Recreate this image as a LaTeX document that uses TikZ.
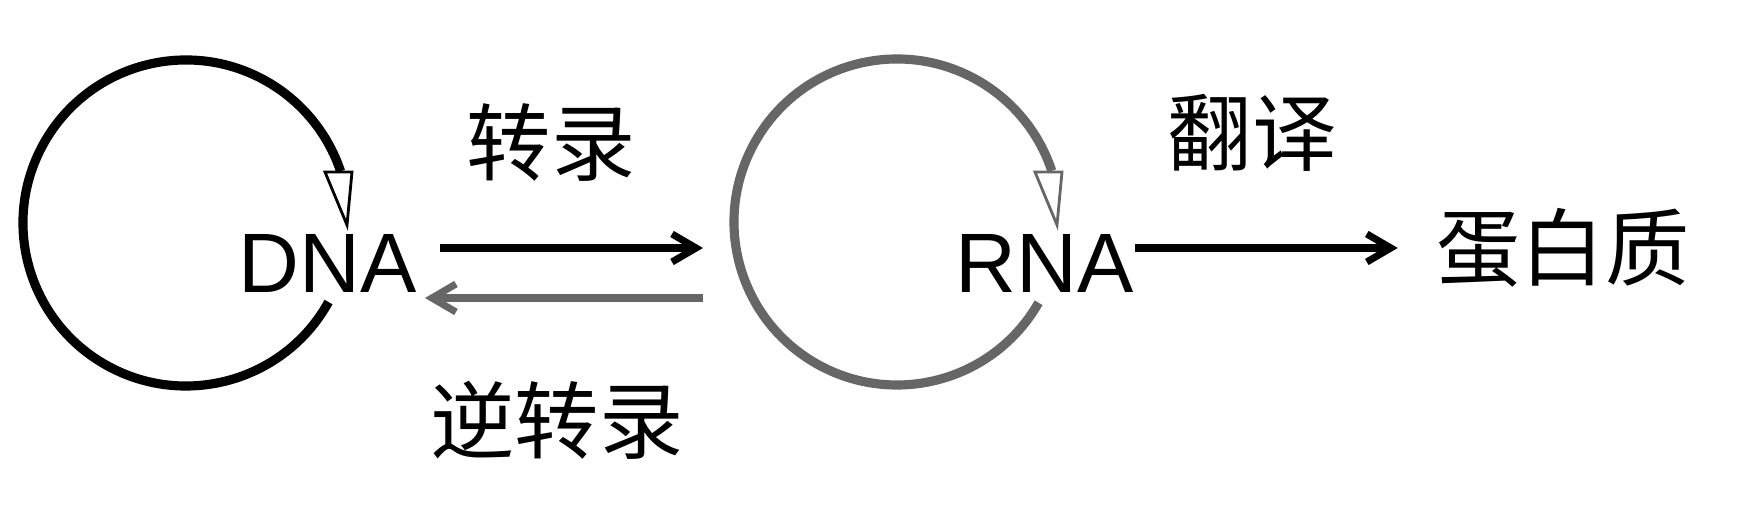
\documentclass[tikz,border=0pt]{standalone}
\usepackage{fontspec}
\setmainfont{Liberation Sans}
\newfontfamily\cjk{Noto Sans CJK SC}
\usetikzlibrary{arrows.meta}
\definecolor{rnagray}{gray}{0.4}

\begin{document}
\begin{tikzpicture}[
        >={Straight Barb[length=2.4mm,width=2.8mm]},
        node distance=7.17cm,
        term/.style={inner sep=0pt, font=\fontsize{24}{28}\selectfont},
        word/.style={inner sep=0pt, font=\cjk\fontsize{24}{28}\selectfont},
        edge/.style={draw, line width=2pt, ->},
        selfloop/.style={draw, line width=2.6pt},
        tiphead/.style={draw, line width=0.8pt, fill=white}
    ]
        \useasboundingbox (0,0) rectangle (17.54,5.26);

        \node[term] (DNA) at (3.28,2.63) {DNA};
        \node[term] (RNA) [right of=DNA] {RNA};
        \node[word] (P) at (15.63,2.78) {蛋白质};

        \node[word] (T) at (5.51,3.83) {转录};
        \node[word] (RT) at (5.57,1.06) {逆转录};
        \node[word] (TL) at (12.52,3.93) {翻译};

        % self loops
        \coordinate (cD) at (1.86,3.03);
        \coordinate (cR) at (8.97,3.04);
        \path[selfloop] ([shift={(-29:1.63)}]cD) arc[start angle=-29, end angle=-341.5, radius=1.63];
        \path[tiphead] (3.25,3.54) -- (3.52,3.54) -- (3.47,3.01) -- cycle;
        \path[selfloop, draw=rnagray] ([shift={(-29.7:1.63)}]cR) arc[start angle=-29.7, end angle=-341.7, radius=1.63];
        \path[tiphead, draw=rnagray] (10.35,3.54) -- (10.62,3.54) -- (10.57,3.01) -- cycle;

        \coordinate (f1) at (4.40,2.78);
        \coordinate (f2) at (7.03,2.78);
        \coordinate (r1) at (7.03,2.28);
        \coordinate (r2) at (4.25,2.28);

        \path[edge] (f1) -- (f2);
        \path[edge, draw=rnagray] (r1) -- (r2);
        \path[edge] (RNA.east |- P.west) -- ([xshift=-3.8mm]P.west);
    \end{tikzpicture}
\end{document}
